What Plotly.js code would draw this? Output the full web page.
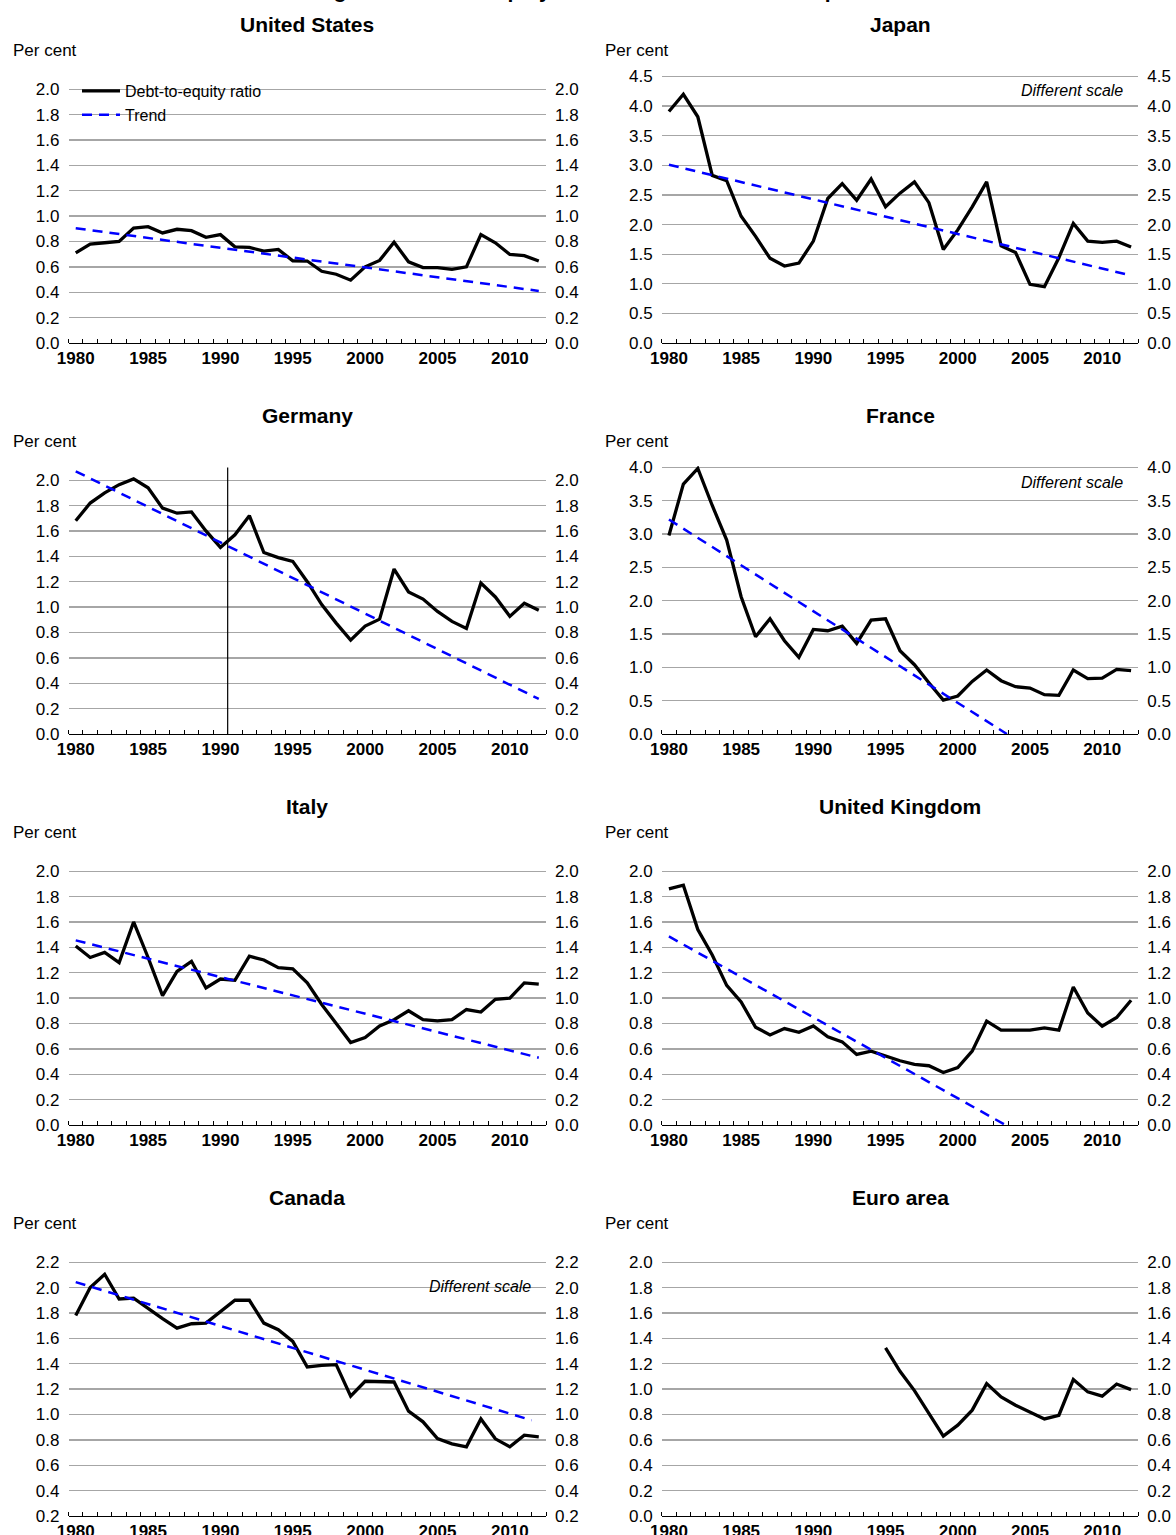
<!DOCTYPE html>
<html>
<head>
<meta charset="utf-8">
<script src="https://cdn.plot.ly/plotly-3.0.1.min.js"></script>
<style>
html,body{margin:0;padding:0;background:#fff;}
#chart{width:1176px;height:1535px;}
</style>
</head>
<body>
<div id="chart"></div>
<script>
// ---------------- DATA ----------------
const years = [1980,1981,1982,1983,1984,1985,1986,1987,1988,1989,1990,1991,1992,1993,1994,1995,1996,1997,1998,1999,2000,2001,2002,2003,2004,2005,2006,2007,2008,2009,2010,2011,2012];
const yearTickVals = [1980,1985,1990,1995,2000,2005,2010];
const yearTickText = ["1980","1985","1990","1995","2000","2005","2010"];

const panelNames = ["United States","Japan","Germany","France","Italy","United Kingdom","Canada","Euro area"];

const usRatio = [0.71,0.78,0.79,0.80,0.906,0.917,0.867,0.896,0.885,0.833,0.854,0.758,0.753,0.724,0.737,0.648,0.646,0.565,0.542,0.495,0.60,0.651,0.794,0.64,0.594,0.594,0.58,0.60,0.854,0.79,0.698,0.688,0.646];
const jpRatio = [3.91,4.20,3.82,2.83,2.74,2.14,1.80,1.43,1.30,1.35,1.72,2.44,2.69,2.41,2.77,2.30,2.53,2.72,2.37,1.58,1.91,2.30,2.72,1.64,1.53,0.99,0.95,1.44,2.02,1.72,1.70,1.72,1.62];
const deRatio = [1.68,1.82,1.90,1.965,2.01,1.94,1.78,1.74,1.75,1.60,1.47,1.57,1.72,1.43,1.39,1.36,1.20,1.02,0.874,0.74,0.85,0.905,1.30,1.12,1.063,0.966,0.887,0.832,1.19,1.08,0.927,1.03,0.976];
const frRatio = [2.98,3.75,3.985,3.43,2.91,2.06,1.46,1.73,1.40,1.15,1.57,1.55,1.62,1.36,1.71,1.73,1.25,1.04,0.77,0.51,0.57,0.79,0.96,0.80,0.71,0.69,0.59,0.58,0.96,0.83,0.84,0.97,0.95];
const itRatio = [1.41,1.32,1.36,1.28,1.60,1.32,1.02,1.21,1.29,1.08,1.15,1.14,1.33,1.30,1.24,1.23,1.12,0.95,0.80,0.65,0.69,0.78,0.83,0.90,0.83,0.82,0.83,0.91,0.89,0.99,1.00,1.12,1.11];
const ukRatio = [1.86,1.89,1.54,1.34,1.10,0.97,0.77,0.71,0.76,0.73,0.78,0.695,0.655,0.556,0.582,0.543,0.506,0.477,0.467,0.414,0.453,0.582,0.818,0.747,0.747,0.747,0.765,0.747,1.088,0.883,0.778,0.847,0.983];
const caRatio = [1.78,2.0,2.105,1.91,1.917,1.833,1.755,1.68,1.715,1.72,1.81,1.90,1.90,1.72,1.668,1.576,1.374,1.387,1.393,1.144,1.262,1.262,1.256,1.026,0.942,0.81,0.769,0.745,0.965,0.808,0.745,0.837,0.824];
const euroRatio = [null,null,null,null,null,null,null,null,null,null,null,null,null,null,null,1.324,1.14,0.988,0.805,0.63,0.716,0.834,1.043,0.938,0.873,0.82,0.765,0.794,1.075,0.978,0.944,1.04,0.996];

// trend lines (end points)
const usTrendYears = [1980, 2012];     const usTrend = [0.905, 0.41];
const jpTrendYears = [1980, 2012];     const jpTrend = [3.01, 1.14];
const deTrendYears = [1980, 2012];     const deTrend = [2.07, 0.276];
const frTrendYears = [1980, 2003.4];   const frTrend = [3.22, 0.0];
const itTrendYears = [1980, 2012];     const itTrend = [1.455, 0.53];
const ukTrendYears = [1980, 2003.3];   const ukTrend = [1.486, 0.0];
const caTrendYears = [1980, 2011.5];   const caTrend = [2.043, 0.955];

const germanyBreakYear = 1990.5;

// y-axis scales of each panel
const yRanges = [[0,2.1],[0,4.5],[0,2.1],[0,4.0],[0,2.1],[0,2.1],[0.2,2.3],[0,2.1]];
const yDticks = [0.2,0.5,0.2,0.5,0.2,0.2,0.2,0.2];
const yTick0 = [0,0,0,0,0,0,0.2,0];
const differentScaleAt = {1: 4.26, 3: 3.78, 6: 2.01};

const figureTitle = "Figure 2. Debt-to-equity ratios of non-financial companies";

// ---------------- LAYOUT ----------------
const W = 1176, H = 1535;
const FONT = "Liberation Sans, Arial, Helvetica, sans-serif";
const colPx = [[68.5, 546], [661.7, 1138.3]];
const rowBottomPx = [343, 734, 1125, 1516];
const plotH = 266.5;
const topPad = 1.5;   // keeps the top gridline visible when it sits on the top edge
const px2x = p => p / W;
const px2y = p => 1 - p / H;

const ratioSeries = [usRatio, jpRatio, deRatio, frRatio, itRatio, ukRatio, caRatio, euroRatio];
const trendSeries = [[usTrendYears,usTrend],[jpTrendYears,jpTrend],[deTrendYears,deTrend],[frTrendYears,frTrend],[itTrendYears,itTrend],[ukTrendYears,ukTrend],[caTrendYears,caTrend],null];

const data = [];
const layout = {
  width: W, height: H,
  margin: {l:0, r:0, t:0, b:0},
  paper_bgcolor: "#ffffff",
  plot_bgcolor: "rgba(0,0,0,0)",
  font: {family: FONT, size: 17, color: "#000"},
  showlegend: true,
  legend: {
    x: px2x(77), y: px2y(74), xanchor: "left", yanchor: "top",
    bgcolor: "rgba(0,0,0,0)", borderwidth: 0,
    font: {family: FONT, size: 16, color: "#000"},
    itemwidth: 38, tracegroupgap: 0
  },
  annotations: [], shapes: []
};

layout.annotations.push({
  text: "<b>" + figureTitle + "</b>", xref: "paper", yref: "paper",
  x: px2x(603), y: px2y(4), xanchor: "center", yanchor: "bottom",
  showarrow: false, font: {family: FONT, size: 21, color: "#000"}
});

for (let i = 0; i < 8; i++) {
  const col = i % 2, row = Math.floor(i / 2);
  const n = i + 1;
  const xa = "xaxis" + (n === 1 ? "" : n);
  const ya = "yaxis" + (n === 1 ? "" : n);
  const ra = "yaxis" + (n + 8);
  const xid = "x" + (n === 1 ? "" : n);
  const yid = "y" + (n === 1 ? "" : n);
  const rid = "y" + (n + 8);
  const pxPerUnit = plotH / (yRanges[i][1] - yRanges[i][0]);
  const yRange = [yRanges[i][0], yRanges[i][1] + topPad / pxPerUnit];
  const xd = [px2x(colPx[col][0]), px2x(colPx[col][1])];
  const yd = [px2y(rowBottomPx[row]), px2y(rowBottomPx[row] - plotH - topPad)];

  layout[xa] = {
    domain: xd, anchor: yid, range: [1979.5, 2012.5],
    tickmode: "array", tickvals: yearTickVals, ticktext: yearTickText,
    ticks: "", showgrid: false, zeroline: false,
    showline: true, linecolor: "#000", linewidth: 1.3,
    tickfont: {family: FONT, size: 17, weight: "bold", color: "#000"},
    ticklabelstandoff: -1,
    minor: {tickmode: "linear", tick0: 1979.5, dtick: 1, ticks: "inside", ticklen: 4, tickwidth: 1, tickcolor: "#000", showgrid: false},
    fixedrange: true
  };
  const yCommon = {
    range: yRange, tickmode: "linear", tick0: yTick0[i], dtick: yDticks[i],
    tickformat: ".1f", ticks: "", zeroline: false, showline: false,
    tickfont: {family: FONT, size: 17, color: "#000"}, ticklabelstandoff: 8,
    fixedrange: true
  };
  layout[ya] = Object.assign({}, yCommon, {
    domain: yd, anchor: xid, side: "left",
    showgrid: true, gridcolor: "#a6a6a6", gridwidth: 1.3
  });
  layout[ra] = Object.assign({}, yCommon, {
    overlaying: yid, anchor: xid, side: "right", showgrid: false
  });

  // ratio line
  data.push({
    type: "scatter", mode: "lines", x: years, y: ratioSeries[i],
    xaxis: xid, yaxis: yid, name: "Debt-to-equity ratio",
    showlegend: i === 0, legendgroup: "ratio",
    line: {color: "#000", width: 3.3}, connectgaps: false, hoverinfo: "skip"
  });
  // same series on the right-hand scale (invisible) so that the right axis is drawn
  data.push({
    type: "scatter", mode: "lines", x: years, y: ratioSeries[i],
    xaxis: xid, yaxis: rid, name: "Debt-to-equity ratio (right scale)",
    showlegend: false, opacity: 0, line: {color: "rgba(0,0,0,0)", width: 0}, hoverinfo: "skip"
  });
  if (trendSeries[i]) {
    data.push({
      type: "scatter", mode: "lines", x: trendSeries[i][0], y: trendSeries[i][1],
      xaxis: xid, yaxis: yid, name: "Trend",
      showlegend: i === 0, legendgroup: "trend",
      line: {color: "#0000ff", width: 2.5, dash: "10px,7px"}, hoverinfo: "skip"
    });
  }

  // panel title
  const cx = (colPx[col][0] + colPx[col][1]) / 2;
  layout.annotations.push({
    text: "<b>" + panelNames[i] + "</b>", xref: "paper", yref: "paper",
    x: px2x(cx), y: px2y(24.5 + row * 391), xanchor: "center", yanchor: "middle",
    showarrow: false, font: {family: FONT, size: 21, color: "#000"}
  });
  // "Per cent"
  layout.annotations.push({
    text: "Per cent", xref: "paper", yref: "paper",
    x: px2x(col === 0 ? 10.5 : 603.2), y: px2y(50.7 + row * 391), xanchor: "left", yanchor: "middle",
    showarrow: false, font: {family: FONT, size: 17, color: "#000"}
  });
  if (differentScaleAt[i] !== undefined) {
    layout.annotations.push({
      text: "<i>Different scale</i>", xref: xid + " domain", yref: yid,
      x: 0.972, y: differentScaleAt[i], xanchor: "right", yanchor: "middle",
      showarrow: false, font: {family: FONT, size: 16, color: "#000"}
    });
  }
}

// German unification break
layout.shapes.push({
  type: "line", xref: "x3", yref: "y3",
  x0: germanyBreakYear, x1: germanyBreakYear, y0: yRanges[2][0], y1: yRanges[2][1],
  line: {color: "#000", width: 1.2}, layer: "above"
});

Plotly.newPlot("chart", data, layout, {staticPlot: true, displayModeBar: false});
</script>
</body>
</html>
